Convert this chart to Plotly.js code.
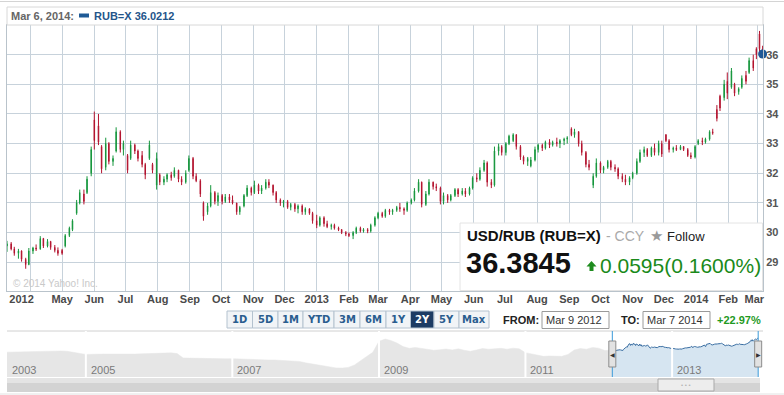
<!DOCTYPE html>
<html><head><meta charset="utf-8">
<script src="https://cdn.plot.ly/plotly-3.0.1.min.js"></script>
<style>html,body{margin:0;padding:0;background:#fff;}#chart{width:784px;height:395px;}</style>
</head><body><div id="chart"></div>
<script>
// ---------- data ----------
const dates = ['2012-03-09','2012-03-13','2012-03-16','2012-03-20','2012-03-23','2012-03-27','2012-03-30','2012-04-03','2012-04-06','2012-04-10','2012-04-13','2012-04-17','2012-04-20','2012-04-24','2012-04-27','2012-05-01','2012-05-04','2012-05-08','2012-05-11','2012-05-15','2012-05-18','2012-05-22','2012-05-25','2012-05-29','2012-06-01','2012-06-05','2012-06-08','2012-06-12','2012-06-15','2012-06-19','2012-06-22','2012-06-26','2012-06-29','2012-07-03','2012-07-06','2012-07-10','2012-07-13','2012-07-17','2012-07-20','2012-07-24','2012-07-27','2012-07-31','2012-08-03','2012-08-07','2012-08-10','2012-08-14','2012-08-17','2012-08-21','2012-08-24','2012-08-28','2012-08-31','2012-09-04','2012-09-07','2012-09-11','2012-09-14','2012-09-18','2012-09-21','2012-09-25','2012-09-28','2012-10-02','2012-10-05','2012-10-09','2012-10-12','2012-10-16','2012-10-19','2012-10-23','2012-10-26','2012-10-30','2012-11-02','2012-11-06','2012-11-09','2012-11-13','2012-11-16','2012-11-20','2012-11-23','2012-11-27','2012-11-30','2012-12-04','2012-12-07','2012-12-11','2012-12-14','2012-12-18','2012-12-21','2012-12-25','2012-12-28',
'2013-01-01','2013-01-04','2013-01-08','2013-01-11','2013-01-15','2013-01-18','2013-01-22','2013-01-25','2013-01-29','2013-02-01','2013-02-05','2013-02-08','2013-02-12','2013-02-15','2013-02-19','2013-02-22','2013-02-26','2013-03-01','2013-03-05','2013-03-08','2013-03-12','2013-03-15','2013-03-19','2013-03-22','2013-03-26','2013-03-29','2013-04-02','2013-04-05','2013-04-09','2013-04-12','2013-04-16','2013-04-19','2013-04-23','2013-04-26','2013-04-30','2013-05-03','2013-05-07','2013-05-10','2013-05-14','2013-05-17','2013-05-21','2013-05-24','2013-05-28','2013-05-31','2013-06-04','2013-06-07','2013-06-11','2013-06-14','2013-06-18','2013-06-21','2013-06-25','2013-06-28','2013-07-02','2013-07-05','2013-07-09','2013-07-12','2013-07-16','2013-07-19','2013-07-23','2013-07-26','2013-07-30','2013-08-02','2013-08-06','2013-08-09','2013-08-13','2013-08-16','2013-08-20','2013-08-23','2013-08-27','2013-08-30','2013-09-03','2013-09-06','2013-09-10','2013-09-13','2013-09-17','2013-09-20','2013-09-24','2013-09-27','2013-10-01','2013-10-04','2013-10-08','2013-10-11','2013-10-15','2013-10-18','2013-10-22','2013-10-25','2013-10-29','2013-11-01','2013-11-05','2013-11-08','2013-11-12','2013-11-15','2013-11-19','2013-11-22','2013-11-26','2013-11-29','2013-12-03','2013-12-06','2013-12-10','2013-12-13','2013-12-17','2013-12-20','2013-12-24','2013-12-27','2013-12-31',
'2014-01-03','2014-01-07','2014-01-10','2014-01-14','2014-01-17','2014-01-21','2014-01-24','2014-01-28','2014-01-31','2014-02-04','2014-02-07','2014-02-11','2014-02-14','2014-02-18','2014-02-21','2014-02-25','2014-02-28','2014-03-03','2014-03-06'];
const opens = [29.55,29.62,29.45,29.30,29.38,29.10,28.92,29.38,29.48,29.45,29.80,29.55,29.70,29.50,29.40,29.40,29.55,29.90,30.10,30.65,31.00,31.30,31.35,32.00,33.80,33.60,32.90,32.20,33.00,32.40,32.75,33.40,32.80,32.60,32.50,32.95,32.75,32.60,32.30,32.50,32.30,31.60,31.95,31.70,31.80,31.95,31.90,32.10,31.80,31.70,32.10,32.50,31.90,31.75,31.00,30.70,30.90,31.35,31.05,31.25,31.05,31.20,31.10,31.00,30.70,30.90,31.25,31.50,31.35,31.60,31.40,31.50,31.70,31.60,31.35,31.10,31.00,31.05,30.85,30.95,30.80,30.90,30.70,30.80,30.65,
30.40,30.25,30.50,30.30,30.20,30.25,30.15,30.10,30.00,29.95,29.90,30.00,30.15,30.05,30.10,30.05,30.25,30.50,30.65,30.55,30.75,30.70,30.75,30.85,30.80,30.75,31.00,31.10,31.40,31.70,30.95,31.30,31.70,31.55,31.50,31.05,31.25,31.10,31.25,31.45,31.30,31.40,31.30,31.50,31.85,31.80,32.10,32.35,31.70,31.60,32.75,32.90,32.70,33.00,33.10,33.30,32.90,32.55,32.40,32.25,32.45,32.80,32.95,32.85,33.05,32.95,33.05,33.00,33.10,33.15,33.50,33.30,33.40,33.00,32.70,32.30,31.60,31.90,32.35,32.10,32.20,32.40,32.20,32.15,31.90,31.80,31.70,31.85,32.00,32.40,32.70,32.80,32.60,32.85,32.70,33.00,33.30,33.10,32.80,32.85,32.80,32.90,32.80,32.60,32.55,
33.00,33.10,33.05,33.15,33.40,34.15,34.60,34.55,35.10,34.90,35.00,34.75,34.90,35.30,35.40,35.80,36.20,36.70,36.20];
const highs = [29.72,29.68,29.52,29.45,29.40,29.15,29.48,29.52,29.60,29.88,29.82,29.78,29.72,29.58,29.50,29.45,29.95,30.20,30.45,31.10,31.45,31.45,31.90,32.90,34.08,34.00,32.95,33.20,33.05,32.60,33.55,33.45,33.10,32.65,33.10,33.00,32.80,32.75,32.35,33.10,32.35,32.70,32.00,31.90,32.00,32.05,32.20,32.12,31.90,32.10,32.60,32.55,32.00,31.80,31.05,31.00,31.60,31.40,31.35,31.30,31.30,31.30,31.25,31.00,30.90,31.30,31.60,31.55,31.75,31.65,31.60,31.80,31.80,31.62,31.40,31.15,31.10,31.10,31.00,31.00,30.95,30.95,30.85,30.82,30.70,
30.60,30.55,30.55,30.40,30.30,30.30,30.20,30.12,30.05,30.00,30.05,30.20,30.20,30.15,30.15,30.30,30.55,30.70,30.70,30.80,30.80,30.80,30.90,31.00,30.85,31.05,31.15,31.50,31.80,31.72,31.40,31.80,31.72,31.65,31.55,31.35,31.30,31.30,31.50,31.50,31.50,31.50,31.55,31.90,32.00,32.20,32.45,32.40,31.80,32.90,33.00,32.95,33.05,33.30,33.35,33.32,32.95,32.60,32.55,32.55,32.90,33.00,33.00,33.10,33.15,33.10,33.20,33.15,33.20,33.25,33.55,33.50,33.42,33.10,32.75,32.45,32.00,32.50,32.40,32.25,32.45,32.45,32.30,32.20,32.00,31.95,31.90,32.05,32.50,32.80,32.90,32.85,32.90,33.00,33.10,33.10,33.32,33.15,32.90,32.95,32.95,32.92,32.85,32.70,32.95,
33.15,33.20,33.20,33.45,33.50,34.30,34.65,35.15,35.40,35.55,35.05,34.90,35.30,35.45,35.90,36.00,36.25,36.80,36.30];
const lows = [29.35,29.40,29.22,29.12,29.02,28.78,28.90,29.28,29.38,29.42,29.48,29.50,29.42,29.33,29.22,29.25,29.50,29.85,30.05,30.60,30.95,30.95,31.30,31.90,32.80,32.95,32.00,32.10,32.30,32.25,32.70,32.70,32.60,32.00,32.45,32.65,32.40,32.20,31.80,32.45,32.00,31.45,31.60,31.60,31.70,31.75,31.85,31.70,31.60,31.65,32.05,31.80,31.70,31.20,30.40,30.60,30.85,30.95,30.90,30.95,31.00,31.00,30.95,30.60,30.60,30.85,31.20,31.25,31.30,31.30,31.30,31.45,31.50,31.25,31.00,30.90,30.85,30.80,30.75,30.70,30.65,30.60,30.60,30.60,30.30,
30.15,30.20,30.20,30.15,30.10,30.10,30.05,29.95,29.88,29.85,29.78,29.95,30.00,30.00,29.98,30.00,30.20,30.45,30.50,30.50,30.60,30.60,30.70,30.70,30.60,30.70,30.95,31.05,31.35,30.85,30.90,31.25,31.45,31.40,30.95,30.95,31.00,31.05,31.20,31.20,31.25,31.20,31.25,31.45,31.70,31.75,32.05,31.55,31.50,31.55,32.60,32.60,32.60,32.95,33.05,32.80,32.45,32.30,32.25,32.20,32.40,32.70,32.75,32.80,32.85,32.90,32.90,32.85,32.95,33.00,33.25,33.20,32.90,32.60,32.20,32.10,31.50,31.85,32.00,32.00,32.15,32.10,32.05,31.80,31.70,31.60,31.60,31.80,31.95,32.35,32.55,32.55,32.55,32.60,32.60,32.55,33.05,32.70,32.70,32.75,32.78,32.75,32.55,32.48,32.50,
32.95,32.95,33.00,33.10,33.30,33.75,34.10,34.45,34.50,34.85,34.60,34.65,34.85,35.00,35.35,35.45,35.85,36.05,35.95];
const closes = [29.62,29.45,29.30,29.38,29.10,28.92,29.38,29.48,29.45,29.80,29.55,29.70,29.50,29.40,29.30,29.30,29.90,30.15,30.40,31.00,31.35,31.05,31.80,32.80,33.10,33.05,32.15,33.00,32.40,32.50,33.40,32.80,33.00,32.10,32.95,32.75,32.50,32.30,31.95,32.95,32.10,32.50,31.70,31.80,31.95,31.85,32.10,31.80,31.70,32.00,32.50,31.90,31.75,31.30,30.55,30.90,31.35,31.05,31.25,31.05,31.20,31.10,31.00,30.70,30.85,31.25,31.50,31.35,31.60,31.40,31.50,31.70,31.60,31.35,31.10,31.00,31.05,30.85,30.95,30.80,30.90,30.70,30.80,30.65,30.40,
30.25,30.50,30.30,30.20,30.25,30.15,30.10,30.00,29.95,29.90,30.00,30.15,30.05,30.10,30.05,30.25,30.50,30.65,30.55,30.75,30.70,30.75,30.85,30.80,30.75,31.00,31.10,31.40,31.70,30.95,31.30,31.70,31.55,31.50,31.05,31.25,31.10,31.25,31.45,31.30,31.40,31.30,31.50,31.85,31.80,32.10,32.35,31.70,31.60,32.75,32.90,32.70,33.00,33.25,33.30,32.90,32.55,32.40,32.50,32.45,32.80,32.95,32.85,33.05,32.95,33.05,33.00,33.10,33.15,33.20,33.30,33.40,33.00,32.70,32.30,32.20,31.90,32.35,32.10,32.20,32.40,32.20,32.15,31.90,31.80,31.70,31.85,32.00,32.40,32.70,32.80,32.60,32.85,32.70,33.00,32.65,33.10,32.80,32.85,32.80,32.90,32.80,32.60,32.55,32.90,
33.10,33.05,33.15,33.40,33.35,33.85,34.20,35.00,34.70,35.45,34.70,34.85,35.20,35.10,35.80,35.55,36.00,36.20,36.02];
const lastDate = '2014-03-06';
const lastClose = 36.0212;

const gridMonths = ['2012-04-01','2012-05-01','2012-06-01','2012-07-01','2012-08-01','2012-09-01','2012-10-01','2012-11-01','2012-12-01','2013-01-01','2013-02-01','2013-03-01','2013-04-01','2013-05-01','2013-06-01','2013-07-01','2013-08-01','2013-09-01','2013-10-01','2013-11-01','2013-12-01','2014-01-01','2014-02-01','2014-03-01'];
const labelDates = ['2012-03-23','2012-05-01','2012-06-01','2012-07-01','2012-08-01','2012-09-01','2012-10-01','2012-11-01','2012-12-01','2013-01-01','2013-02-01','2013-03-01','2013-04-01','2013-05-01','2013-06-01','2013-07-01','2013-08-01','2013-09-01','2013-10-01','2013-11-01','2013-12-01','2014-01-01','2014-02-01','2014-02-26'];
const labelText = ['2012','May','Jun','Jul','Aug','Sep','Oct','Nov','Dec','2013','Feb','Mar','Apr','May','Jun','Jul','Aug','Sep','Oct','Nov','Dec','2014','Feb','Mar'];
const yTicks = [29,30,31,32,33,34,35,36];

const navDates = ['2003-12-05','2004-01','2004-02','2004-03','2004-04','2004-05','2004-06','2004-07','2004-08','2004-09','2004-10','2004-11','2004-12','2005-01','2005-02','2005-03','2005-04','2005-09','2005-10','2005-11','2005-12','2006-01','2006-02','2006-03','2006-04','2006-05','2006-06','2006-07','2006-08','2006-09','2006-10','2006-11','2006-12','2007-01','2007-02','2007-03','2007-04','2007-05','2007-06','2007-07','2007-08','2007-09','2007-10','2007-11','2007-12','2008-01','2008-02','2008-03','2008-04','2008-05','2008-06','2008-07','2008-08','2008-09','2008-10','2008-11','2008-12','2009-01','2009-02','2009-03','2009-04','2009-05','2009-06','2009-07','2009-08','2009-09','2009-10','2009-11','2009-12','2010-01','2010-02','2010-03','2010-04','2010-05','2010-06','2010-07','2010-08','2010-09','2010-10','2010-11','2010-12','2011-01','2011-02','2011-03','2011-04','2011-05','2011-06','2011-07','2011-08','2011-09','2011-10','2011-11','2011-12','2012-01','2012-02','2012-03-09'];
const navVals = [28.3,28.4,28.4,28.5,28.5,28.6,28.6,28.8,29.0,29.0,28.8,28.2,27.4,27.0,27.1,27.0,27.2,27.2,27.3,27.4,27.6,27.6,27.7,27.9,27.5,25.0,24.9,24.8,24.7,24.7,24.6,24.7,24.5,24.6,24.4,24.3,24.1,24.0,23.9,23.8,23.8,23.7,23.5,23.2,23.0,22.2,21.6,20.8,20.2,19.6,19.3,19.2,19.6,21.0,23.5,25.8,28.2,34.5,35.8,35.0,33.5,31.5,30.5,31.0,30.6,30.0,29.4,29.7,30.1,29.6,30.2,29.4,28.8,29.5,30.4,30.0,30.2,30.5,30.0,30.6,30.2,28.0,27.3,26.6,25.9,26.1,25.8,25.9,27.0,29.5,30.4,30.0,31.0,30.6,29.2,29.6];
const navYears = ['2003','2005','2007','2009','2011','2013'];
const navYearDates = ['2003-12-05','2005-01-01','2007-01-01','2009-01-01','2011-01-01','2013-01-01'];
const rangeButtons = ['1D','5D','1M','YTD','3M','6M','1Y','2Y','5Y','Max'];

// ---------- layout helpers (pixel -> paper) ----------
const W = 784, H = 395, ML = 7, MR = 21, MT = 25, MB = 18;
const PW = W - ML - MR, PH = H - MT - MB;
const P = x => (x - ML) / PW;
const Q = y => (H - MB - y) / PH;
const FONT = 'Liberation Sans, Arial, sans-serif';
const GRID = '#c7d2db';

const xRange = ['2012-03-09', '2014-03-06 09:00'];
const navRange = ['2003-12-05', '2014-03-30'];

const traces = [
  {type:'candlestick', x:dates, open:opens, high:highs, low:lows, close:closes,
   xaxis:'x', yaxis:'y', hoverinfo:'skip', whiskerwidth:0,
   increasing:{line:{color:'#15963c', width:1}, fillcolor:'#15963c'},
   decreasing:{line:{color:'#b3132e', width:1}, fillcolor:'#b3132e'}},
  {type:'scatter', mode:'markers', x:[lastDate], y:[lastClose], xaxis:'x2', yaxis:'y',
   marker:{color:'#1e5896', size:9}, cliponaxis:false, hoverinfo:'skip'},
  {type:'scatter', mode:'lines', x:navDates, y:navVals, xaxis:'x3', yaxis:'y3',
   fill:'tozeroy', fillcolor:'#e6e6e6', line:{color:'#e6e6e6', width:0.5}, hoverinfo:'skip'},
  {type:'scatter', mode:'lines', x:dates, y:closes, xaxis:'x3', yaxis:'y3',
   fill:'tozeroy', fillcolor:'#d6e5f1', line:{color:'#3b6fa3', width:1}, hoverinfo:'skip'}
];

const shapes = [];
const ann = [];
function rect(x0,y0,x1,y1,fill,line,lw){shapes.push({type:'rect',xref:'paper',yref:'paper',x0:P(x0),x1:P(x1),y0:Q(y1),y1:Q(y0),fillcolor:fill,line:{color:line||fill,width:lw===undefined?1:lw},layer:'above'});}
function hline(x0,x1,y,color){shapes.push({type:'line',xref:'paper',yref:'paper',x0:P(x0),x1:P(x1),y0:Q(y),y1:Q(y),line:{color:color,width:1},layer:'above'});}
function text(t,x,y,size,color,opts){ann.push(Object.assign({text:t,xref:'paper',yref:'paper',x:P(x),y:Q(y),xanchor:'left',yanchor:'middle',showarrow:false,font:{family:FONT,size:size,color:color}},opts||{}));}

// page top line + header
hline(0,784,1.5,'#d4d4d4');
rect(7,7,763,25,'#ffffff','#d8d8d8',1);
text('Mar 6, 2014:',8.5,16,11,'#666666',{font:{family:FONT,size:11,color:'#666666',weight:'bold'}});
rect(79,13.5,89,17.5,'#1f5a96','#1f5a96',0);
text('RUB=X 36.0212',91.5,16,11,'#24558a',{font:{family:FONT,size:11,color:'#24558a',weight:'bold'}});

// watermark
text('© 2014 Yahoo! Inc.',10.5,283.5,10,'#c9c9c9');

// info box
rect(460,223,762.5,290.5,'#ffffff','#e4e4e4',1);
text('USD/RUB (RUB=X)',465,236,15,'#111111',{font:{family:FONT,size:15,color:'#111111',weight:'bold'}});
text('- CCY',604,236,14,'#aaaaaa');
text('★',648,235.5,15,'#9a9a9a');
text('Follow',665,236.5,13,'#222222');
text('36.3845',464,263,29,'#111111',{font:{family:FONT,size:29,color:'#111111',weight:'bold'}});
shapes.push({type:'path',xref:'paper',yref:'paper',layer:'above',fillcolor:'#1e8c1e',line:{width:0},
  path:`M ${P(586.5)} ${Q(266.5)} L ${P(591.5)} ${Q(261)} L ${P(596.5)} ${Q(266.5)} L ${P(593.5)} ${Q(266.5)} L ${P(593.5)} ${Q(271)} L ${P(589.5)} ${Q(271)} L ${P(589.5)} ${Q(266.5)} Z`});
text('0.0595(0.1600%)',597.5,265,21,'#1a8a1a');

// range buttons
const bEdges = [227,252.5,278,303,334,360,386,410.5,434,459,489];
rangeButtons.forEach((b,i)=>{
  const sel = b === '2Y';
  rect(bEdges[i],311,bEdges[i+1],328, sel?'#1d3c64':'#f1f4f7', '#b4c2cf',1);
  text(b,(bEdges[i]+bEdges[i+1])/2,319.5,10,sel?'#ffffff':'#2a5d8f',{xanchor:'center',font:{family:'DejaVu Sans, Verdana, sans-serif',size:10,color:sel?'#ffffff':'#2a5d8f',weight:'bold'}});
});
// from / to
text('FROM:',540.5,320,11,'#222',{xanchor:'right',font:{family:FONT,size:11,color:'#222222',weight:'bold'}});
rect(542,311.5,609,328.5,'#ffffff','#9a9a9a',1);
text('Mar 9 2012',543.5,320,11,'#333333');
text('TO:',641.5,320,11,'#222',{xanchor:'right',font:{family:FONT,size:11,color:'#222222',weight:'bold'}});
rect(643,311.5,710,328.5,'#ffffff','#9a9a9a',1);
text('Mar 7 2014',644.5,320,11,'#333333');
text('+22.97%',763,320,11,'#1f9a1f',{xanchor:'right',font:{family:FONT,size:11,color:'#1f9a1f',weight:'bold'}});

// navigator decorations
hline(7,763,331,'#d0d0d0');
navYearDates.slice(1).forEach(d=>{
  shapes.push({type:'line',xref:'x3',yref:'paper',x0:d,x1:d,y0:Q(377),y1:Q(331),line:{color:'#ffffff',width:2},layer:'above'});
});
[dates[0], dates[dates.length-1]].forEach((d,i)=>{
  shapes.push({type:'line',xref:'x3',yref:'paper',x0:d,x1:d,y0:Q(377),y1:Q(331),line:{color:'#3a9ad9',width:1},layer:'above'});
  shapes.push({type:'rect',xref:'x3',yref:'paper',xsizemode:'pixel',xanchor:d,x0:-3.5,x1:3.5,y0:Q(367),y1:Q(341),fillcolor:'#e2e2e2',line:{color:'#8c8c8c',width:1},layer:'above'});
  ann.push({text:i===0?'◀':'▶',xref:'x3',yref:'paper',x:d,y:Q(354),xanchor:'center',yanchor:'middle',showarrow:false,font:{family:'DejaVu Sans',size:6,color:'#333333'}});
});
navYears.forEach((t,i)=>{
  ann.push({text:t,xref:'x3',yref:'paper',x:navYearDates[i],y:Q(369.5),xanchor:'left',yanchor:'middle',xshift:3,showarrow:false,font:{family:FONT,size:11,color:'#7a7a7a'}});
});
// scrollbar
rect(7,378,760,392,'#d3d3d3','#d3d3d3',0);
rect(7,378,760,383,'#e4e4e4','#e4e4e4',0);
rect(658,379,714,391,'#ededed','#a9a9a9',1);
text('• • •',686,385,6,'#b4b4b4',{xanchor:'center'});
hline(0,784,394,'#e2e2e2');

const layout = {
  width:W, height:H, margin:{l:ML,r:MR,t:MT,b:MB,pad:0}, showlegend:false,
  paper_bgcolor:'#ffffff', plot_bgcolor:'#ffffff', boxgap:0.75,
  font:{family:FONT},
  xaxis:{domain:[0,1], anchor:'y', type:'date', range:xRange, tickvals:gridMonths, showticklabels:false, ticks:'',
         showgrid:true, gridcolor:GRID, gridwidth:1, showline:true, linecolor:'#b9c3cb', linewidth:1, mirror:true,
         zeroline:false, rangeslider:{visible:false}, fixedrange:true},
  xaxis2:{overlaying:'x', anchor:'y', type:'date', range:xRange, tickvals:labelDates, ticktext:labelText,
          showgrid:false, ticks:'', showline:false, zeroline:false, side:'bottom',
          tickfont:{family:FONT,size:11,color:'#4a4a4a',weight:'bold'}},
  yaxis:{domain:[Q(291),1], anchor:'x', range:[28.03,37], side:'right', tickvals:yTicks, ticks:'',
         showgrid:true, gridcolor:GRID, gridwidth:1, showline:true, linecolor:'#b9c3cb', mirror:true, zeroline:false,
         tickfont:{family:FONT,size:11,color:'#555555',weight:'bold'}},
  xaxis3:{domain:[0,1], anchor:'y3', type:'date', range:navRange, visible:false,
          rangebreaks:[{bounds:['2005-04-20','2005-08-20']}]},
  yaxis3:{domain:[0,Q(331)], anchor:'x3', range:[14.1,40.4], visible:false},
  shapes:shapes, annotations:ann
};
Plotly.newPlot('chart', traces, layout, {staticPlot:true, displayModeBar:false});
</script>
</body></html>
